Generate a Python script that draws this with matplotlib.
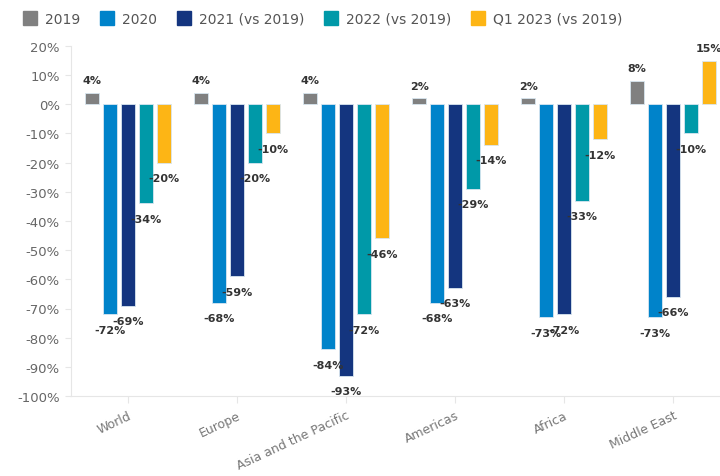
import numpy as np
import matplotlib
matplotlib.use("Agg")
from matplotlib import pyplot as plt
from matplotlib.lines import Line2D

regions = ["World", "Europe", "Asia and the Pacific", "Americas", "Africa", "Middle East"]
series = ["2019", "2020", "2021 (vs 2019)", "2022 (vs 2019)", "Q1 2023 (vs 2019)"]
v2019 = [4, 4, 4, 2, 2, 8]
v2020 = [-72, -68, -84, -68, -73, -73]
v2021 = [-69, -59, -93, -63, -72, -66]
v2022 = [-34, -20, -72, -29, -33, -10]
vq123 = [-20, -10, -46, -14, -12, 15]
colors = ["#808080", "#0083ca", "#14357f", "#0099a8", "#fdb515"]

data = [v2019, v2020, v2021, v2022, vq123]

fig = plt.figure(figsize=(7.2, 4.77), dpi=100)
ax = fig.add_axes([71/720, 1-397/477, 649/720, 350/477])

x = np.arange(len(regions))
step = 0.165
width = 0.13
for i, (vals, c) in enumerate(zip(data, colors)):
    xs = x + (i - 2) * step
    ax.bar(xs, vals, width=width, color=c, edgecolor="#d8e6f0", linewidth=0.6, zorder=2)
    for xi, v in zip(xs, vals):
        off = 9 if v >= 0 else -11
        ax.annotate(f"{v}%", (xi, v), xytext=(0, off), textcoords="offset points",
                    ha="center", va="center", fontsize=8, fontweight="bold",
                    color="#333333", zorder=3)

ax.set_ylim(-100, 20)
ax.set_xlim(-0.523, 5.43)
ax.set_yticks(range(-100, 21, 10))
ax.set_yticklabels([f"{t}%" for t in range(-100, 21, 10)], fontsize=9.5, color="#666666")
ax.set_xticks(x)
ax.set_xticklabels(regions, rotation=25, ha="right", rotation_mode="anchor",
                   fontsize=9, color="#777777")
for s in ["top", "right"]:
    ax.spines[s].set_visible(False)
ax.spines["left"].set_color("#e6e6e6")
ax.spines["bottom"].set_color("#e6e6e6")
ax.tick_params(axis="y", length=4, color="#e6e6e6", pad=4)
ax.tick_params(axis="x", length=5, color="#e6e6e6", pad=4)

handles = [Line2D([0], [0], marker="s", linestyle="", markersize=10,
                  markerfacecolor=c, markeredgecolor=c) for c in colors]
fig.legend(handles, series, loc="upper left", bbox_to_anchor=(0.005, 1.0), ncol=5,
           frameon=False, fontsize=10, handletextpad=0.1, columnspacing=0.9,
           labelcolor="#555555")

fig.savefig("out.png", dpi=100)
